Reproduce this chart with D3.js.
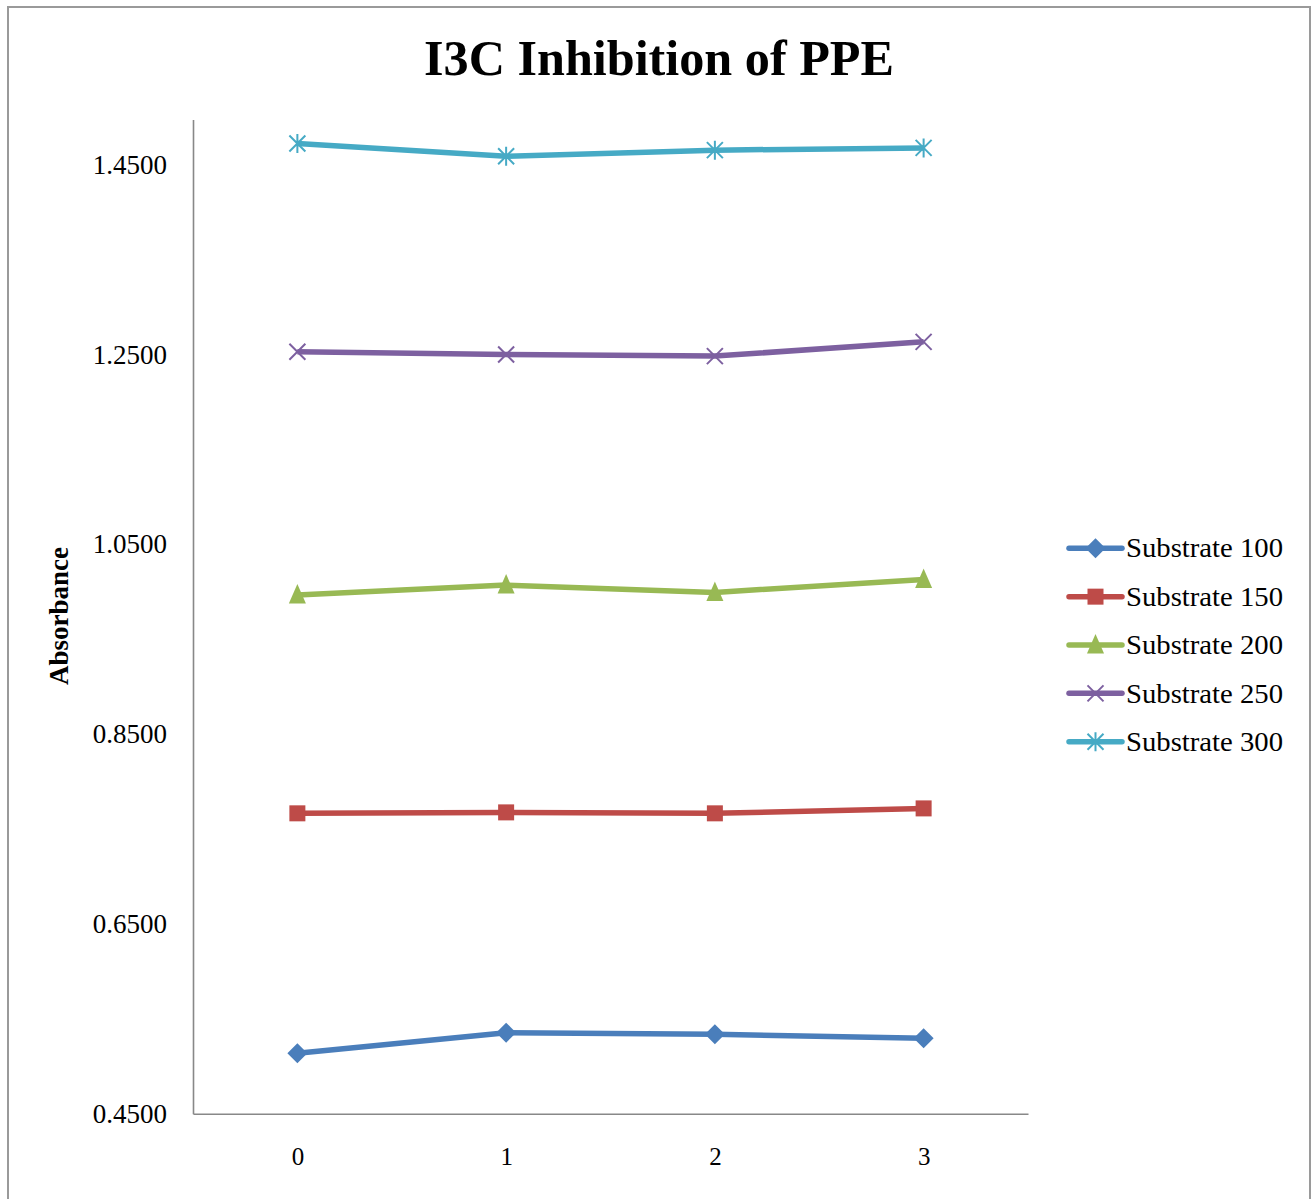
<!DOCTYPE html>
<html>
<head>
<meta charset="utf-8">
<script src="https://cdn.jsdelivr.net/npm/d3@7/dist/d3.min.js"></script>
<style>
  html, body { margin: 0; padding: 0; background: #fff; }
  svg { display: block; }
  text { font-family: "Liberation Serif", "Times New Roman", serif; fill: #000; }
</style>
</head>
<body>
<svg id="chart" width="1314" height="1199"></svg>
<script>
const title = "I3C Inhibition of PPE";
const yAxisTitle = "Absorbance";
const categories = ["0", "1", "2", "3"];
const yTicks = [0.45, 0.65, 0.85, 1.05, 1.25, 1.45];
const seriesNames = ["Substrate 100", "Substrate 150", "Substrate 200", "Substrate 250", "Substrate 300"];
const substrate100 = [0.5136, 0.5353, 0.5336, 0.5294];
const substrate150 = [0.7665, 0.7675, 0.7665, 0.7717];
const substrate200 = [0.9965, 1.0070, 0.9993, 1.0130];
const substrate250 = [1.2528, 1.2500, 1.2483, 1.2633];
const substrate300 = [1.4723, 1.4589, 1.4653, 1.4677];
const colors = ["#4a7ebb", "#be4b48", "#98b954", "#7d60a0", "#46aac5"];
const markers = ["diamond", "square", "triangle", "x", "star"];

const seriesValues = [substrate100, substrate150, substrate200, substrate250, substrate300];
const series = seriesNames.map((n, i) => ({name: n, values: seriesValues[i], color: colors[i], marker: markers[i]}));

const svg = d3.select("#chart");

// outer border
svg.append("rect").attr("x", 8).attr("y", 7).attr("width", 1302).attr("height", 1200)
  .attr("fill", "#fff").attr("stroke", "#9a9a9a").attr("stroke-width", 2);

const plot = {left: 193, right: 1028, top: 119.5, bottom: 1113.7};

const x = d3.scalePoint().domain(categories).range([plot.left, plot.right]).padding(0.5);
const y = d3.scaleLinear().domain([0.45, 1.4976]).range([plot.bottom, plot.top]);

// title
svg.append("text").attr("x", 659).attr("y", 75).attr("text-anchor", "middle")
  .attr("font-size", 51).attr("font-weight", "bold")
  .attr("textLength", 470).attr("lengthAdjust", "spacingAndGlyphs")
  .text(title);

// y axis
const yAxis = d3.axisLeft(y).tickValues(yTicks).tickSize(0).tickPadding(26)
  .tickFormat(d3.format(".4f"));
const gy = svg.append("g").attr("transform", `translate(${plot.left},0)`).call(yAxis);
gy.select(".domain").attr("stroke", "#888").attr("stroke-width", 1.6);
gy.selectAll("text").attr("font-size", 27).attr("font-family", "Liberation Serif, serif").attr("fill", "#000");

// x axis
const xAxis = d3.axisBottom(x).tickSize(0).tickPadding(34);
const gx = svg.append("g").attr("transform", `translate(0,${plot.bottom})`).call(xAxis);
gx.select(".domain").attr("stroke", "#888").attr("stroke-width", 1.6);
gx.selectAll("text").attr("font-size", 25).attr("font-family", "Liberation Serif, serif").attr("fill", "#000");

// y axis title
svg.append("text").attr("transform", "translate(68,616) rotate(-90)")
  .attr("text-anchor", "middle").attr("font-size", 27).attr("font-weight", "bold")
  .text(yAxisTitle);

function drawMarker(g, type, cx, cy, color) {
  if (type === "diamond") {
    const r = 10;
    g.append("path").attr("d", `M${cx},${cy - r}L${cx + r},${cy}L${cx},${cy + r}L${cx - r},${cy}Z`).attr("fill", color);
  } else if (type === "square") {
    const h = 8;
    g.append("rect").attr("x", cx - h).attr("y", cy - h).attr("width", 2 * h).attr("height", 2 * h).attr("fill", color);
  } else if (type === "triangle") {
    g.append("path").attr("d", `M${cx},${cy - 11}L${cx + 8.5},${cy + 8.5}L${cx - 8.5},${cy + 8.5}Z`).attr("fill", color);
  } else if (type === "x") {
    const h = 8;
    g.append("path").attr("d", `M${cx - h},${cy - h}L${cx + h},${cy + h}M${cx - h},${cy + h}L${cx + h},${cy - h}`)
      .attr("stroke", color).attr("stroke-width", 2).attr("fill", "none");
  } else if (type === "star") {
    const h = 8;
    g.append("path").attr("d", `M${cx - h},${cy - h}L${cx + h},${cy + h}M${cx - h},${cy + h}L${cx + h},${cy - h}M${cx},${cy - 9.5}L${cx},${cy + 9.5}`)
      .attr("stroke", color).attr("stroke-width", 2).attr("fill", "none");
  }
}

const line = d3.line().x((d, i) => x(categories[i])).y(d => y(d));

series.forEach(s => {
  const g = svg.append("g");
  g.append("path").datum(s.values).attr("d", line).attr("fill", "none")
    .attr("stroke", s.color).attr("stroke-width", 5.5).attr("stroke-linejoin", "round");
  s.values.forEach((v, i) => drawMarker(g, s.marker, x(categories[i]), y(v), s.color));
});

// legend
const legend = svg.append("g");
series.forEach((s, i) => {
  const ly = 548.3 + i * 48.35;
  const g = legend.append("g");
  g.append("line").attr("x1", 1069).attr("x2", 1122).attr("y1", ly).attr("y2", ly)
    .attr("stroke", s.color).attr("stroke-width", 5.5).attr("stroke-linecap", "round");
  drawMarker(g, s.marker, 1095.5, ly, s.color);
  g.append("text").attr("x", 1126).attr("y", ly).attr("dy", "0.34em")
    .attr("font-size", 27).attr("textLength", 157).attr("lengthAdjust", "spacingAndGlyphs")
    .text(s.name);
});
</script>
</body>
</html>
